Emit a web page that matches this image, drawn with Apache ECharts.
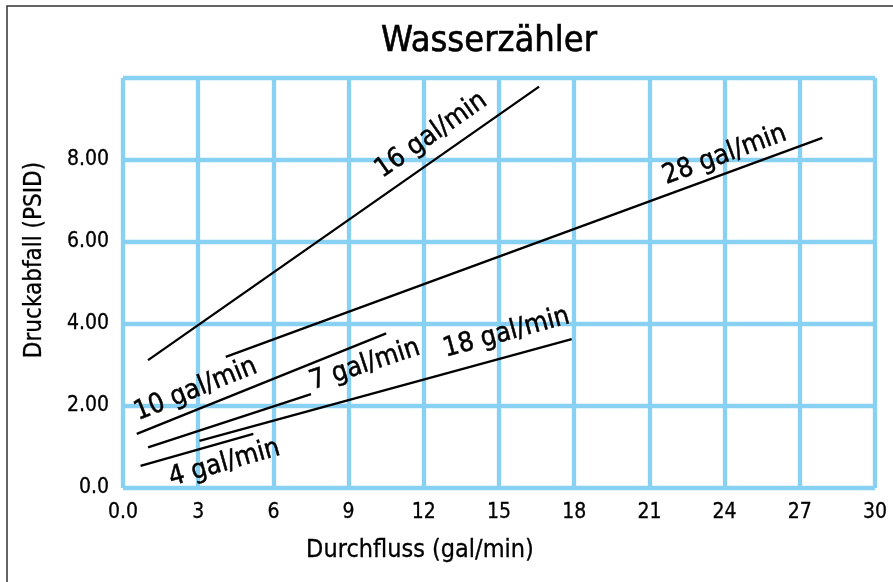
<!DOCTYPE html>
<html>
<head>
<meta charset="utf-8">
<script src="https://cdn.jsdelivr.net/npm/echarts@6/dist/echarts.min.js"></script>
<style>
  html, body { margin: 0; padding: 0; background: #fff; }
  #chart { width: 893px; height: 582px; }
</style>
</head>
<body>
<div id="chart"></div>
<script>
// Druckabfall je Durchflusslinie (Anfang / Ende)
var lineNames = ['16 gal/min', '28 gal/min', '10 gal/min', '18 gal/min', '7 gal/min', '4 gal/min'];
var startX = [1.0, 4.1, 0.55, 3.05, 1.0, 0.7];
var startY = [3.12, 3.2, 1.32, 1.15, 0.99, 0.54];
var endX = [16.6, 27.9, 10.5, 17.9, 7.5, 5.2];
var endY = [9.79, 8.54, 3.77, 3.63, 2.29, 1.32];
// Beschriftung der Linien (Mitte des Textes)
var labelX = [12.3, 24.0, 2.9, 15.3, 9.65, 4.05];
var labelY = [8.6, 8.12, 2.4, 3.78, 3.0, 0.6];
var yTickLabels = { 0: '0.0', 2: '2.00', 4: '4.00', 6: '6.00', 8: '8.00', 10: '' };

var FONT = "'DejaVu Sans Condensed', 'Liberation Sans Narrow', sans-serif";
var GRID_BLUE = '#88d1f3';

var series = lineNames.map(function (name, i) {
    return {
        name: name,
        type: 'line',
        symbol: 'none',
        lineStyle: { color: '#000', width: 2.3 },
        data: [[startX[i], startY[i]], [endX[i], endY[i]]]
    };
});

var option = {
    animation: false,
    title: {
        text: 'Wasserzähler',
        left: 484,
        top: 19,
        textAlign: 'center',
        textStyle: {
            fontFamily: FONT, fontSize: 36, fontWeight: 'normal', color: '#000',
            textBorderColor: '#000', textBorderWidth: 0.6
        }
    },
    grid: { left: 123, right: 18, top: 78, bottom: 94 },
    xAxis: {
        type: 'value',
        min: 0,
        max: 30,
        interval: 3,
        name: 'Durchfluss (gal/min)',
        nameLocation: 'middle',
        nameGap: 50,
        nameTextStyle: {
            fontFamily: FONT, fontSize: 25, color: '#000', padding: [0, 158, 0, 0],
            textBorderColor: '#000', textBorderWidth: 0.3
        },
        axisLine: { show: false },
        axisTick: { show: false },
        axisLabel: {
            fontFamily: FONT, fontSize: 21, color: '#000', margin: 14,
            textBorderColor: '#000', textBorderWidth: 0.3,
            formatter: function (v) { return v === 0 ? '0.0' : String(v); }
        },
        splitLine: { show: true, lineStyle: { color: GRID_BLUE, width: 4.3 } }
    },
    yAxis: {
        type: 'value',
        min: 0,
        max: 10,
        interval: 2,
        name: 'Druckabfall (PSID)',
        nameLocation: 'middle',
        nameGap: 76,
        nameTextStyle: {
            fontFamily: FONT, fontSize: 24, color: '#000', padding: [0, 0, 0, 46],
            textBorderColor: '#000', textBorderWidth: 0.3
        },
        axisLine: { show: false },
        axisTick: { show: false },
        axisLabel: {
            fontFamily: FONT, fontSize: 21, color: '#000', margin: 14,
            textBorderColor: '#000', textBorderWidth: 0.3,
            formatter: function (v) { return yTickLabels[v]; }
        },
        splitLine: { show: true, lineStyle: { color: GRID_BLUE, width: 4.3 } }
    },
    series: series
};

var chart = echarts.init(document.getElementById('chart'));
chart.setOption(option);

// Linienbeschriftungen entlang der Linien drehen
var graphics = [{
    type: 'rect',
    silent: true,
    shape: { x: 7, y: 6, width: 950, height: 650 },
    style: { fill: 'none', stroke: '#333', lineWidth: 1.5 }
}];
lineNames.forEach(function (name, i) {
    var p0 = chart.convertToPixel({ gridIndex: 0 }, [startX[i], startY[i]]);
    var p1 = chart.convertToPixel({ gridIndex: 0 }, [endX[i], endY[i]]);
    var pc = chart.convertToPixel({ gridIndex: 0 }, [labelX[i], labelY[i]]);
    var angle = Math.atan2(p0[1] - p1[1], p1[0] - p0[0]);
    graphics.push({
        type: 'text',
        x: pc[0],
        y: pc[1],
        rotation: angle,
        style: {
            text: name,
            fontFamily: FONT,
            fontSize: 27,
            fill: '#000',
            stroke: '#000',
            lineWidth: 0.5,
            align: 'center',
            verticalAlign: 'middle'
        }
    });
});
chart.setOption({ graphic: graphics });
</script>
</body>
</html>
